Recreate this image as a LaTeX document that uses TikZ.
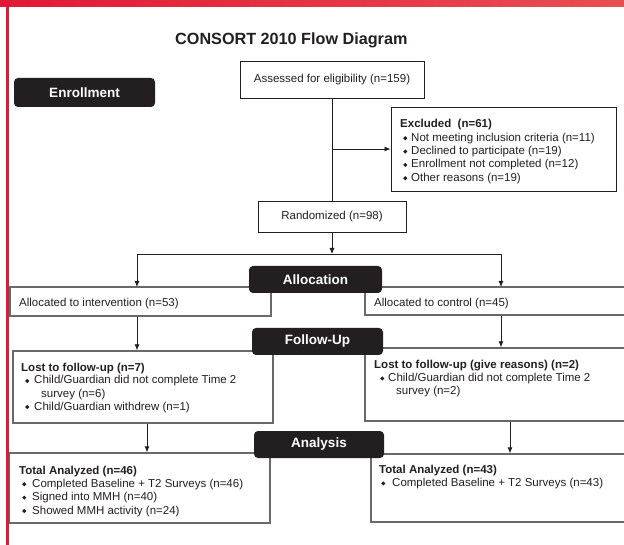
\documentclass[tikz,border=0pt]{standalone}
\usepackage{fontspec}
\usepackage{graphicx}
\setmainfont{Liberation Sans}
\usetikzlibrary{arrows.meta,calc}
\definecolor{redL}{RGB}{226,24,54}
\definecolor{redR}{RGB}{232,78,82}
\definecolor{ink}{RGB}{35,31,32}
\definecolor{edge}{RGB}{105,105,108}
\newcommand{\dmd}{\raisebox{1.0pt}{\rotatebox{45}{\rule{2.9pt}{2.9pt}}}}
\newcommand{\bulletmark}[1][8pt]{\makebox[#1][l]{\dmd}}
\begin{document}
\begin{tikzpicture}[x=1pt,y=-1pt,
  lbl/.style={fill=ink, rounded corners=4pt, text=white, inner sep=0pt,
    font=\fontsize{13.5}{16}\selectfont\bfseries},
  box/.style={draw=ink, line width=0.9pt, inner sep=0pt, text=ink,
    font=\fontsize{11.5}{13}\selectfont},
  gbox/.style={draw=edge, line width=1.3pt, inner sep=0pt},
  txt/.style={anchor=base west, inner sep=0pt, text=ink,
    font=\fontsize{11.5}{13}\selectfont},
  bt/.style={txt, font=\fontsize{11.5}{13}\selectfont\bfseries},
  arr/.style={draw=ink, line width=0.8pt, -{Latex[length=6pt,width=5pt]}},
  ln/.style={draw=ink, line width=0.8pt}]
\useasboundingbox (0,0) rectangle (624,545);
\clip (0,0) rectangle (624,545);
\fill[white] (0,0) rectangle (624,545);

% title
\node[anchor=base west, inner sep=0pt, text=ink,
  font=\fontsize{16.2}{19}\selectfont\bfseries] (title) at (175,45) {CONSORT 2010 Flow Diagram};

% upper boxes
\node[box, minimum width=184pt, minimum height=37pt] (assess) at (332,79.5) {Assessed for eligibility (n=159)};
\node[box, minimum width=225pt, minimum height=84pt] (excl) at (503.5,149) {};
\node[box, minimum width=148pt, minimum height=31pt] (rand) at (332,216.5) {Randomized (n=98)};

% lower boxes
\node[gbox, minimum width=261pt, minimum height=29pt] (allocL) at (140.5,301.5) {};
\node[gbox, minimum width=267pt, minimum height=28pt] (allocR) at (498.5,301) {};
\node[gbox, minimum width=260pt, minimum height=72pt] (lostL) at (143,387) {};
\node[gbox, minimum width=267pt, minimum height=73pt] (lostR) at (498.5,384.5) {};
\node[gbox, minimum width=261pt, minimum height=70pt] (totL) at (139.5,488) {};
\node[gbox, minimum width=261pt, minimum height=68pt] (totR) at (501.5,488) {};

% connectors
\draw[ln] (assess.south) -- (rand.north);
\draw[arr] (assess.south |- excl.west) -- (excl.west);
\coordinate (split) at (332,254);
\coordinate (aL) at (137,287);
\coordinate (aR) at (501,287);
\draw[arr] (rand.south) -- (split);
\draw[arr] (split) -| (aL);
\draw[arr] (split) -| (aR);
\draw[arr] (allocL.south -| aL) -- (lostL.north -| aL);
\draw[arr] (allocR.south -| aR) -- (lostR.north -| aR);
\coordinate (bL) at (147,440);
\coordinate (bR) at (510,440);
\draw[arr] (lostL.south -| bL) -- (totL.north -| bL);
\draw[arr] (lostR.south -| bR) -- (totR.north -| bR);

% stage labels
\node[lbl, minimum width=141pt, minimum height=29pt] (enroll) at (84.5,92.5) {Enrollment};
\node[lbl, minimum width=133pt, minimum height=27pt] (alloc) at (315.5,279.5) {Allocation};
\node[lbl, minimum width=131pt, minimum height=27pt] (follow) at (317.5,341.5) {Follow-Up};
\node[lbl, minimum width=130pt, minimum height=27pt] (analysis) at (319,444.5) {Analysis};

% excluded text
\node[bt] (ex0) at (400,128) {Excluded~ (n=61)};
\node[txt] (ex1) at (403,141.3) {\bulletmark Not meeting inclusion criteria (n=11)};
\node[txt] (ex2) at (403,154.6) {\bulletmark Declined to participate (n=19)};
\node[txt] (ex3) at (403,168) {\bulletmark Enrollment not completed (n=12)};
\node[txt] (ex4) at (403,181.3) {\bulletmark Other reasons (n=19)};

% allocation text
\node[txt] (alL) at (19,307) {Allocated to intervention (n=53)};
\node[txt] (alR) at (374,307) {Allocated to control (n=45)};

% follow-up text
\node[bt] (lL0) at (21,371) {Lost to follow-up (n=7)};
\node[txt] (lL1) at (25,384) {\bulletmark[9pt]Child/Guardian did not complete Time 2};
\node[txt] (lL2) at (41,397) {survey (n=6)};
\node[txt] (lL3) at (25,410) {\bulletmark[9pt]Child/Guardian withdrew (n=1)};
\node[bt] (lR0) at (374,369) {Lost to follow-up (give reasons) (n=2)};
\node[txt] (lR1) at (380,381.5) {\bulletmark Child/Guardian did not complete Time 2};
\node[txt] (lR2) at (396,394) {survey (n=2)};

% analysis text
\node[bt] (tL0) at (19,474) {Total Analyzed (n=46)};
\node[txt] (tL1) at (22,487.3) {\bulletmark[10pt]Completed Baseline + T2 Surveys (n=46)};
\node[txt] (tL2) at (22,500.6) {\bulletmark[10pt]Signed into MMH (n=40)};
\node[txt] (tL3) at (22,514) {\bulletmark[10pt]Showed MMH activity (n=24)};
\node[bt] (tR0) at (379,473) {Total Analyzed (n=43)};
\node[txt] (tR1) at (381,486.5) {\bulletmark[11pt]Completed Baseline + T2 Surveys (n=43)};

% red frame
\shade[left color=redL, right color=redR] (0,0) rectangle (624,6.5);
\fill[redL] (6,0) rectangle (9.3,545);
\end{tikzpicture}
\end{document}
